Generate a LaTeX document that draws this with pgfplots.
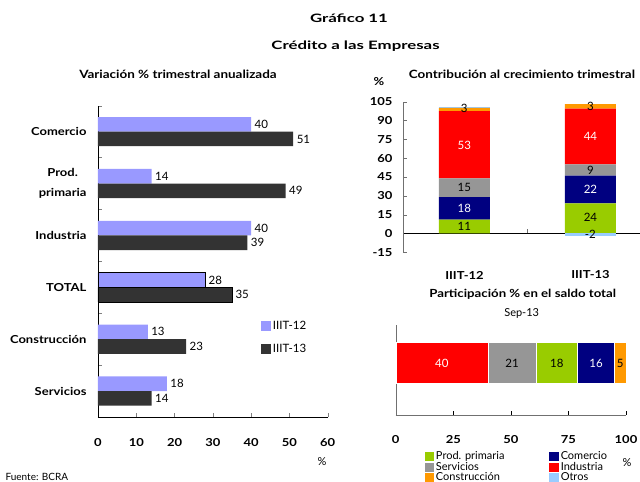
\documentclass[border=0pt]{standalone}
\usepackage{fontspec}
\setmainfont{Lato}[BoldFeatures={FakeStretch=1.18}]
\newfontfamily\titlefont{Lato}[FakeStretch=1.45]
\usepackage{pgfplots}
\pgfplotsset{compat=1.18}
\definecolor{lightbar}{HTML}{9999FF}
\definecolor{darkbar}{HTML}{333333}
\definecolor{cgreen}{HTML}{99CC00}
\definecolor{cnavy}{HTML}{000080}
\definecolor{cgray}{HTML}{969696}
\definecolor{cred}{HTML}{FF0000}
\definecolor{corange}{HTML}{FF9900}
\definecolor{cblue}{HTML}{99CCFF}
\definecolor{axgray}{HTML}{707070}
\begin{document}
\begin{tikzpicture}[font=\fontsize{11}{13}\selectfont]
\useasboundingbox (0pt,0pt) rectangle (640pt,482pt);
\node[font=\titlefont\bfseries\fontsize{11.6}{14}\selectfont] at (349pt,464pt) {Gráfico 11};
\node[font=\titlefont\bfseries\fontsize{11.6}{14}\selectfont] at (355.5pt,436pt) {Crédito a las Empresas};
\node[font=\bfseries\fontsize{11.4}{12}\selectfont] at (178pt,408pt) {Variación \% trimestral anualizada};
\node[font=\bfseries\fontsize{11.4}{12}\selectfont] at (522pt,408pt) {Contribución al crecimiento trimestral};
\node[font=\bfseries\fontsize{11}{12}\selectfont] at (379pt,400pt) {\%};
\node[font=\bfseries\fontsize{11.2}{12}\selectfont] at (522.7pt,188pt) {Participación \% en el saldo total};
\node[font=\fontsize{11}{12}\selectfont] at (521.7pt,169pt) {Sep-13};
\node[font=\fontsize{11}{12}\selectfont] at (322pt,20pt) {\%};
\node[font=\fontsize{11}{12}\selectfont] at (627pt,19pt) {\%};
\node[anchor=west,font=\fontsize{10}{11}\selectfont] at (2pt,5pt) {Fuente: BCRA};

% ---------------- left chart
\begin{axis}[
  at={(98pt,65pt)}, anchor=south west, scale only axis,
  width=229.7pt, height=311.3pt,
  xbar, bar width=14.6pt,
  xmin=0, xmax=60, xtick={0,10,...,60},
  ymin=-0.5, ymax=5.5,
  ytick={-0.5,0.5,...,5.5}, yticklabels={},
  extra y ticks={0,1,2,3,4,5},
  extra y tick labels={Servicios,Construcción,TOTAL,Industria,{Prod.\\[7pt]primaria},Comercio},
  extra y tick style={major tick length=0pt},
  yticklabel style={font=\bfseries\fontsize{11}{13}\selectfont, align=center, xshift=-8pt},
  xticklabel style={font=\bfseries\fontsize{11}{13}\selectfont, yshift=-18pt},
  axis lines*=left, tick align=inside, major tick length=4pt,
  /pgf/number format/assume math mode=true,
  nodes near coords, nodes near coords style={font=\fontsize{11.5}{13}\selectfont},
  legend style={at={(0.695,0.322)}, anchor=north west, draw=none, fill=none, row sep=9pt, font=\fontsize{11.5}{13}\selectfont},
  legend image code/.code={\fill[#1] (0pt,-5pt) rectangle (10pt,5pt);},
  clip=false,
]
\addplot[fill=lightbar, draw=none, bar shift=7.3pt] coordinates {(18,0) (13,1) (28,2) (40,3) (14,4) (40,5)};
\addlegendentry{IIIT-12}
\addplot[fill=darkbar, draw=none, bar shift=-7.3pt] coordinates {(14,0) (23,1) (35,2) (39,3) (49,4) (51,5)};
\addlegendentry{IIIT-13}
\addplot[forget plot, fill=none, draw=black, bar shift=7.3pt, nodes near coords=] coordinates {(28,2)};
\addplot[forget plot, fill=none, draw=black, bar shift=-7.3pt, nodes near coords=] coordinates {(35,2)};
\end{axis}

% ---------------- top right stacked
\begin{axis}[
  at={(403pt,229.7pt)}, anchor=south west, scale only axis,
  width=237pt, height=150.6pt,
  ybar stacked, bar width=51pt,
  xmin=-0.486, xmax=1.393, ymin=-15, ymax=105,
  ytick={-15,0,...,105}, xtick={0.5}, xticklabels={},
  axis y line*=left, axis x line*=middle, tick align=inside, major tick length=4pt,
  axis line style={axgray}, tick style={axgray},
  x axis line style={black},
  yticklabel style={font=\bfseries\fontsize{11}{13}\selectfont, xshift=-7pt},
  /pgf/number format/assume math mode=true,
  clip=false,
]
\addplot[fill=cgreen, draw=none] coordinates {(0,11) (1,24)};
\addplot[fill=cnavy, draw=none] coordinates {(0,18) (1,22)};
\addplot[fill=cgray, draw=none] coordinates {(0,15) (1,9)};
\addplot[fill=cred, draw=none] coordinates {(0,53.5) (1,44.5)};
\addplot[fill=corange, draw=none] coordinates {(0,2.6) (1,3.5)};
\addplot[fill=cblue, draw=none] coordinates {(0,0.5) (1,0)};
\end{axis}
\begin{axis}[
  at={(403pt,229.7pt)}, anchor=south west, scale only axis,
  width=237pt, height=150.6pt,
  xmin=-0.486, xmax=1.393, ymin=-15, ymax=105,
  hide axis, clip=false,
]
\addplot[ybar, bar width=51pt, fill=cblue, draw=none] coordinates {(1,-2)};
\addplot[only marks, mark=none, nodes near coords, point meta=explicit symbolic,
  nodes near coords align={center}, nodes near coords style={font=\fontsize{11.5}{13}\selectfont}]
  coordinates {(0,5.3) [11] (0,19.9) [\textcolor{white}{18}] (0,36.3) [15] (0,70.4) [\textcolor{white}{53}] (0,99.6) [3]
               (1,13.2) [24] (1,35) [\textcolor{white}{22}] (1,50.4) [9] (1,77) [\textcolor{white}{44}] (1,100.9) [3] (1,-0.8) [-2]};
\end{axis}
\node[font=\bfseries\fontsize{11}{13}\selectfont] at (464.5pt,207pt) {IIIT-12};
\node[font=\bfseries\fontsize{11}{13}\selectfont] at (590.5pt,207pt) {IIIT-13};

% ---------------- bottom right horizontal stacked
\begin{axis}[
  at={(395.7pt,67pt)}, anchor=south west, scale only axis,
  width=230.3pt, height=90pt,
  xbar stacked, bar width=41pt,
  xmin=0, xmax=100, ymin=0, ymax=1,
  xtick={0,25,...,100}, ytick=\empty,
  axis lines*=left, tick align=inside, major tick length=4pt,
  axis line style={axgray}, tick style={black},
  xticklabel style={font=\bfseries\fontsize{11}{13}\selectfont, yshift=-17pt},
  /pgf/number format/assume math mode=true,
  legend image code/.code={\fill[#1] (0pt,-4.5pt) rectangle (9.3pt,4.5pt);},
  legend columns=2, legend cell align=left,
  legend style={at={(0.125,-0.40)}, anchor=north west, draw=none, fill=none, inner sep=0pt,
    nodes={inner ysep=0.5pt, inner xsep=2pt}, row sep=0pt, font=\fontsize{11}{11}\selectfont,
    /tikz/column 2/.style={column sep=43pt}},
  clip=false,
]
\addlegendimage{fill=cgreen, draw=none}\addlegendentry{Prod. primaria}
\addlegendimage{fill=cnavy, draw=none}\addlegendentry{Comercio}
\addlegendimage{fill=cgray, draw=none}\addlegendentry{Servicios}
\addlegendimage{fill=cred, draw=none}\addlegendentry{Industria}
\addlegendimage{fill=corange, draw=none}\addlegendentry{Construcción}
\addlegendimage{fill=cblue, draw=none}\addlegendentry{Otros}
\addplot[fill=cred, draw=white] coordinates {(40,0.578)};
\addplot[fill=cgray, draw=white] coordinates {(21,0.578)};
\addplot[fill=cgreen, draw=white] coordinates {(18,0.578)};
\addplot[fill=cnavy, draw=white] coordinates {(16,0.578)};
\addplot[fill=corange, draw=white] coordinates {(5,0.578)};
\end{axis}
\begin{axis}[
  at={(395.7pt,67pt)}, anchor=south west, scale only axis,
  width=230.3pt, height=90pt,
  xmin=0, xmax=100, ymin=0, ymax=1,
  hide axis, clip=false,
]
\addplot[only marks, mark=none, nodes near coords, point meta=explicit symbolic,
  nodes near coords align={center}, nodes near coords style={font=\fontsize{11.5}{13}\selectfont}]
  coordinates {(20,0.578) [\textcolor{white}{40}] (50.5,0.578) [21] (70,0.578) [18] (87,0.578) [\textcolor{white}{16}] (97.5,0.578) [5]};
\end{axis}
\end{tikzpicture}
\end{document}
